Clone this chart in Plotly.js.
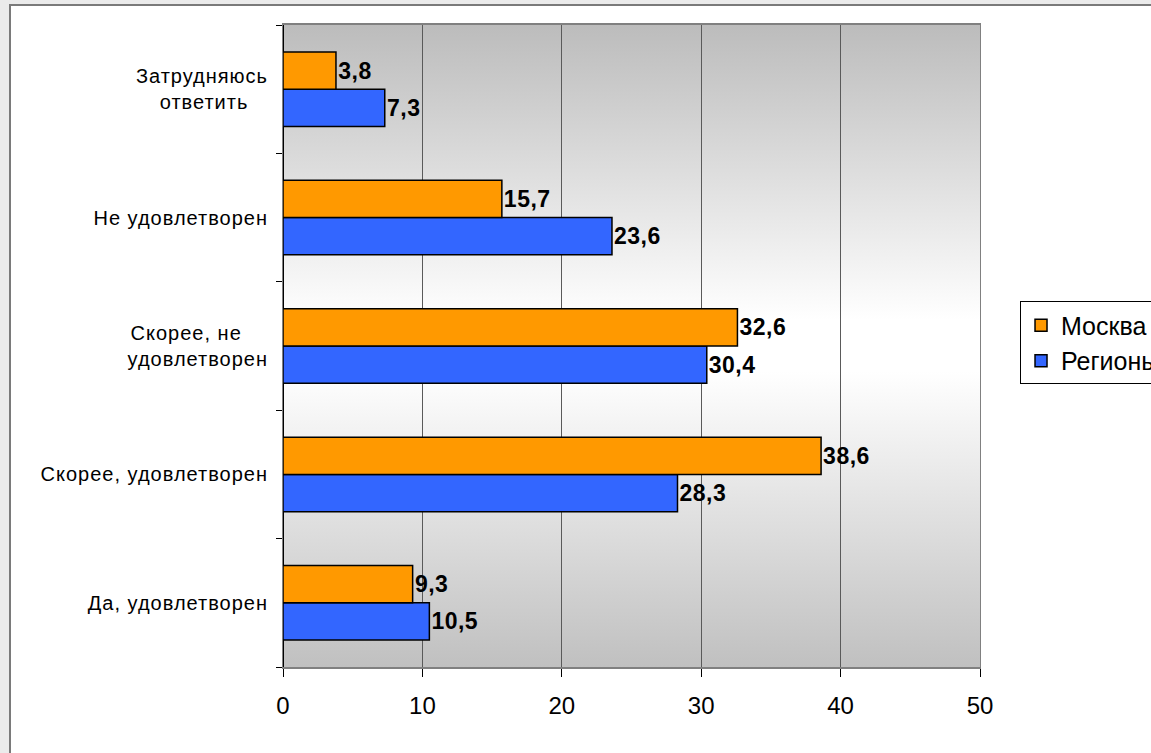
<!DOCTYPE html>
<html>
<head>
<meta charset="utf-8">
<script src="https://cdn.plot.ly/plotly-3.0.1.min.js"></script>
<style>
html, body { margin:0; padding:0; background:#ebebeb; overflow:hidden; }
#frame { position:absolute; left:9px; top:4px; width:1300px; height:900px; background:#ffffff; border:2px solid #7a7a7a; box-sizing:border-box; }
#chart { position:absolute; left:0; top:0; width:1151px; height:753px; }
#chart .ytick text { letter-spacing: 1px; }
#chart .bartext text, #chart text.bartext { letter-spacing: 0.5px; }
</style>
</head>
<body>
<div id="frame"></div>
<div id="chart"></div>
<script>
// Categories listed bottom-to-top (Plotly puts the first category at the bottom)
const categories = [
  "Да, удовлетворен",
  "Скорее, удовлетворен",
  "Скорее, не\u00a0\u00a0\u00a0\u00a0<br>удовлетворен",
  "Не удовлетворен",
  "Затрудняюсь<br>ответить\u00a0\u00a0\u00a0"
];
const moscow  = [9.3, 38.6, 32.6, 15.7, 3.8];
const regions = [10.5, 28.3, 30.4, 23.6, 7.3];
const seriesNames = ["Москва", "Регионы"];
const xTicks = [0, 10, 20, 30, 40, 50];

const grad = '<svg xmlns="http://www.w3.org/2000/svg" width="100" height="100" viewBox="0 0 100 100" preserveAspectRatio="none">' +
  '<defs><linearGradient id="g" x1="0" y1="0" x2="0" y2="1">' +
  '<stop offset="0" stop-color="#bcbcbc"/>' +
  '<stop offset="0.46" stop-color="#ffffff"/>' +
  '<stop offset="0.54" stop-color="#ffffff"/>' +
  '<stop offset="1" stop-color="#c0c0c0"/>' +
  '</linearGradient></defs><rect x="0" y="0" width="100" height="100" fill="url(#g)"/></svg>';
const gradUri = 'data:image/svg+xml;charset=utf-8,' + encodeURIComponent(grad);

const labelFont = {family: "Liberation Sans, Arial, sans-serif", size: 23, color: "#000", weight: 700};

const traces = [
  {
    type: "bar", orientation: "h", name: seriesNames[1],
    y: categories, x: regions,
    marker: {color: "#3366FF", line: {color: "#000", width: 1.5}},
    texttemplate: "%{x:.1f}", textposition: "outside", cliponaxis: false,
    textfont: labelFont, legendrank: 2, hoverinfo: "x"
  },
  {
    type: "bar", orientation: "h", name: seriesNames[0],
    y: categories, x: moscow,
    marker: {color: "#FF9900", line: {color: "#000", width: 1.5}},
    texttemplate: "%{x:.1f}", textposition: "outside", cliponaxis: false,
    textfont: labelFont, legendrank: 1, hoverinfo: "x"
  }
];

const layout = {
  width: 1151, height: 753,
  margin: {l: 283, r: 171, t: 25, b: 86, pad: 0},
  paper_bgcolor: "rgba(0,0,0,0)",
  plot_bgcolor: "rgba(0,0,0,0)",
  separators: ", ",
  barmode: "group",
  bargap: 0.42,
  bargroupgap: 0,
  font: {family: "Liberation Sans, Arial, sans-serif", color: "#000"},
  xaxis: {
    range: [0, 50], tickvals: xTicks, ticktext: xTicks.map(String),
    showgrid: true, gridcolor: "#5a5a5a", gridwidth: 1,
    showline: true, linecolor: "#808080", linewidth: 2, mirror: true,
    zeroline: true, zerolinecolor: "#000", zerolinewidth: 2,
    ticks: "outside", ticklen: 8, tickcolor: "#000", tickwidth: 1,
    tickfont: {size: 24, color: "#000"}, ticklabelstandoff: 8,
    fixedrange: true, automargin: false
  },
  yaxis: {
    type: "category",
    showgrid: false,
    showline: true, linecolor: "#808080", linewidth: 1, mirror: true,
    ticks: "outside", tickson: "boundaries", ticklen: 6, tickcolor: "#000", tickwidth: 1,
    tickfont: {size: 20, color: "#000"}, ticklabelstandoff: 10,
    fixedrange: true, automargin: false
  },
  legend: {
    xref: "container", yref: "container",
    x: 0.8862, xanchor: "left", y: 0.5445, yanchor: "middle",
    bordercolor: "#000", borderwidth: 1, bgcolor: "rgba(255,255,255,0)",
    font: {size: 25, color: "#000"}, traceorder: "normal",
    itemwidth: 30
  },
  images: [{
    source: gradUri, xref: "paper", yref: "paper",
    x: 0, y: 1, sizex: 1, sizey: 1, sizing: "stretch",
    xanchor: "left", yanchor: "top", layer: "below"
  }],
  showlegend: true
};

Plotly.newPlot("chart", traces, layout, {displayModeBar: false, staticPlot: true});
</script>
</body>
</html>
